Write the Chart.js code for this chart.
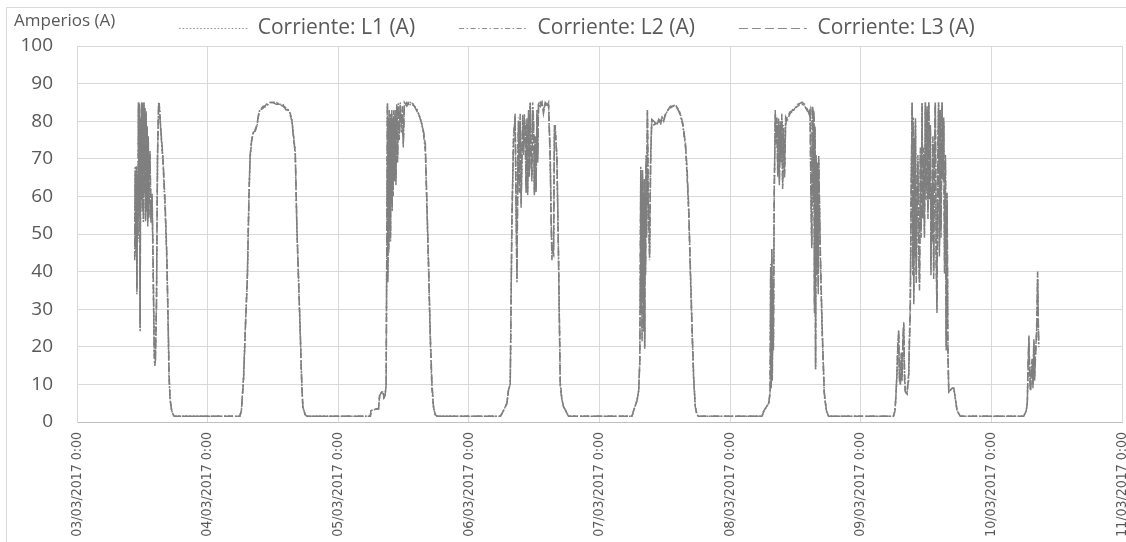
<!DOCTYPE html>
<html lang="es">
<head>
<meta charset="utf-8">
<title>Corriente L1 L2 L3</title>
<script src="https://cdn.jsdelivr.net/npm/chart.js@4.4.0/dist/chart.umd.min.js"></script>
<style>
  html, body { margin: 0; padding: 0; background: #fff; }
  #marco { position: absolute; left: 6px; top: 7px; width: 1120px; height: 535px; border-top: 1px solid #d9d9d9; border-left: 1px solid #d9d9d9; }
  #grafico { position: absolute; left: 0; top: 0; }
</style>
</head>
<body>
<div id="marco"></div>
<canvas id="grafico" width="1126" height="542"></canvas>
<script>
// etiquetas del eje X (una por dia)
let fechas = ['03/03/2017 0:00', '04/03/2017 0:00', '05/03/2017 0:00', '06/03/2017 0:00', '07/03/2017 0:00',
              '08/03/2017 0:00', '09/03/2017 0:00', '10/03/2017 0:00', '11/03/2017 0:00'];
let tituloY = 'Amperios (A)';

// horas desde 03/03/2017 0:00
let horas = [
  10.6,10.7,10.8,10.9,11.0,11.1,11.2,11.3,11.4,11.5,11.6,11.7,11.8,11.9,12.0,12.1,12.2,12.3,12.4,12.5,12.6,12.7,12.8,12.9,13.0,13.1,13.2,
  13.4,13.6,13.8,14.0,14.2,14.3,14.4,14.6,14.8,15.0,15.1,15.4,15.8,16.2,16.5,16.8,16.9,17.1,17.4,17.8,18.0,
  29.9,30.2,30.6,31.0,31.3,31.6,31.8,32.1,32.4,32.8,33.1,33.4,33.6,34.2,34.8,35.4,36.0,36.6,37.2,37.8,38.4,38.8,39.2,39.5,39.8,40.1,40.4,41.0,41.3,41.5,41.9,42.3,
  53.9,54.0,55.1,55.4,55.6,56.0,56.2,56.4,56.6,56.8,
  57.04,57.12,57.2,57.28,57.36,57.44,57.52,57.6,57.68,57.76,57.84,57.92,
  58.0,58.1,58.2,58.3,58.45,58.6,58.75,58.9,59.05,59.2,
  59.4,59.6,59.8,59.95,60.15,
  60.6,61.0,61.5,62.0,62.5,63.0,63.4,63.7,
  64.0,64.3,64.6,64.9,65.2,65.5,65.8,66.2,
  77.8,78.36,78.99,79.28,79.6,79.9,80.2,80.5,80.65,80.83,
  81.0,81.12,81.28,81.43,81.6,81.75,81.9,82.04,82.2,82.35,
  82.5,82.67,82.8,82.96,83.1,83.27,83.42,83.58,83.72,83.88,
  84.04,84.19,84.35,84.5,84.65,84.8,85.1,85.42,85.7,86.03,
  86.3,86.64,86.95,87.1,87.26,87.4,87.56,87.72,87.87,88.18,
  88.47,88.79,89.1,89.4,89.8,90.3,
  101.97,102.26,102.9,103.2,103.4,103.5,103.58,103.66,103.74,103.82,
  103.9,103.98,104.06,104.14,104.22,104.3,104.38,104.46,104.56,104.66,
  104.8,104.95,105.2,105.4,105.6,106.0,106.56,106.9,107.2,107.5,
  107.8,108.2,108.6,109.0,109.5,109.9,110.4,110.85,111.3,111.8,
  112.1,112.4,112.7,113.0,113.3,113.6,113.9,114.2,
  125.86,126.2,127.1,127.35,127.45,127.55,127.65,127.75,127.85,127.95,
  128.1,128.3,128.45,128.6,128.75,128.9,129.05,129.2,129.35,129.5,
  129.65,129.8,130.0,130.2,130.45,131.0,131.7,132.4,133.2,133.7,
  134.1,134.5,134.7,134.85,135.0,135.1,135.2,135.3,135.4,135.5,
  135.6,135.7,135.8,135.95,136.05,136.2,136.27,136.45,136.6,136.9,
  137.3,137.7,138.1,
  150.0,150.3,150.5,150.68,150.8,150.97,151.1,151.29,151.45,151.6,
  151.75,151.9,152.05,152.2,152.5,152.65,152.8,152.95,153.1,153.25,
  153.44,153.55,153.65,153.74,153.85,153.95,154.05,154.2,154.35,154.5,
  154.65,154.8,154.96,155.1,155.27,155.4,155.57,155.7,155.88,156.0,
  156.2,156.35,156.5,156.65,156.8,156.9,157.0,157.1,157.25,157.4,
  157.55,157.7,157.85,158.0,158.15,158.3,158.45,158.6,158.75,158.95,
  159.1,159.25,159.4,159.56,159.7,159.87,160.0,160.17,160.5,160.8,
  161.1,161.4,161.7,162.3,
  173.95,174.4,174.6,174.75,174.9,175.05,175.2,175.35,175.5,175.65,
  175.8,175.95,176.1,176.3,176.4,176.5,176.6,176.7
];

let L1 = [
  44,68,45,66,34,67,48,85,55,84,24,80,60,85,58,84,53,85,62,83,54,82,57,78,53,75,55,
  72,54,60,40,18,15,16,30,70,85,85,78,70,57,44,22,13,6,3,1.6,1.5,
  1.5,3,12,28,38,60,70,75,77,77.5,79,82,83,83.5,84,85,85,85,84.5,84.5,83.5,83,82,80,76,72,52,25,10,4,2,1.5,
  1.5,3,3.5,3.5,7,8,8,6.5,7,10,
  85,38,80,45,82,55,80,48,81,60,82,56,
  80,62,82,65,82,64,84,70,85,76,
  84,78,83,74,85,
  84,85,85,84,83,81,79,77,
  73,57,41,23,10,4,2,1.5,
  1.5,3,5,8.5,10,53,75,81.5,60,37,
  70,80,62,81,58,70,81,72,81,78,
  62,80,61,82,66,85,70,65,84,80,
  61,75,62,82,70,85,84,85,83,85,
  84,85,70,55,44,46,45,78,78,70,
  44,10,6,4,3,1.5,
  1.5,3,5.7,8.4,16,40,68,30,62,22,
  66,35,60,25,64,20,58,40,70,50,
  83,60,43,70,80,79.5,79,80.5,79.5,81,
  80,82,83,83.5,84,84.5,83.5,82,79,74,
  66,56,40,25,12,4,2,1.5,
  1.5,3,5,8,40,10,46,12,38,20,
  60,82,75,80,66,80,64,79,70,81,
  63,78,66,80,81,82,83,84,85,84,
  83,82,83,60,47,83.5,84,60,82,30,
  78,14,70,40,68,35,70,55,43,25,
  7.5,3,1.5,
  1.5,3,8,14,20,24,12,10,18,12,
  22,26,12,8,7.5,10,12,22,30,60,
  85,40,80,32,75,45,80,38,60,70,
  45,36,72,50,85,55,72,50,85,60,
  83,55,85,60,78,40,62,49,75,39,
  72,85,45,30,70,85,45,83,50,85,
  65,80,40,70,20,60,20,8,8.5,9,
  9,6,3,1.5,
  1.5,3,5,15,22.5,12,8.5,14,16,10,
  21.5,12,18,23.5,30,39.5,28,20
];

let L2 = [
  44,66,47,67,36,65,50,84,57,85,26,79,62,84,56,85,55,84,60,82,55,83,58,77,54,74,56,
  71,55,59,38,17,15,17,32,72,84,85,77,69,56,43,21,12,6,3,1.6,1.5,
  1.5,3,12,28,39,61,70,75,77,78,79,82,83,84,84,85,85,85,84.5,84,83.5,83,82,80,76,71,51,24,10,4,2,1.5,
  1.5,3,3.5,3.5,7,8,8,6.5,7,10,
  84,40,81,47,80,57,82,50,80,62,81,58,
  81,60,83,66,81,65,83,71,84,77,
  85,77,83,75,84,
  85,84,85,84,83,81,79,76,
  72,56,40,22,9,4,2,1.5,
  1.5,3,5,8.5,10,52,76,81,62,39,
  71,81,63,80,60,71,80,73,82,77,
  63,81,62,81,67,84,71,66,85,79,
  62,74,63,81,71,84,85,84,83,84.5,
  84,85,71,56,45,45,46,77,79,69,
  45,11,6,4,3,1.5,
  1.5,3,5.7,8.4,16,42,66,32,63,24,
  65,37,61,27,62,22,60,42,71,52,
  82,62,45,71,80,79,79.5,80,79,81,
  80.5,82,83,83.5,84,84,83.5,81.5,79,73,
  65,55,39,24,11,4,2,1.5,
  1.5,3,5,8,42,11,45,13,36,22,
  62,81,76,79,67,81,65,78,71,80,
  64,79,67,81,80,82,83.5,84,84.5,84,
  83,82.5,82,62,48,83,83.5,58,81,32,
  76,15,69,42,67,36,69,54,42,24,
  7,3,1.5,
  1.5,3,8,14,21,23,13,10,17,13,
  21,25,13,8,7.5,10,13,23,32,62,
  84,42,81,34,74,47,81,40,62,71,
  47,38,71,52,84,57,73,52,85,62,
  82,57,84,62,77,42,63,50,74,41,
  71,84,47,32,71,84,47,82,52,84,
  66,79,42,69,22,58,21,8,8.5,9,
  9,6,3,1.5,
  1.5,3,5,14,21,13,9,15,17,11,
  22,13,19,24,32,38,27,20
];

let L3 = [
  43,67,46,68,35,66,49,85,56,83,25,81,59,85,57,83,54,85,61,84,53,81,56,79,52,76,54,
  72,53,61,41,19,16,16,31,71,85,84,78,70,58,45,23,14,6,3,1.6,1.5,
  1.5,3,11,27,38,60,71,75,77,77.5,79.5,82,83,83.5,84.5,85,85,84.5,84.5,84.5,83,83,81.5,80,75,72,52,25,10,4,2,1.5,
  1.5,3,3.5,3.5,7,8,8,6.5,7,10,
  85,37,79,46,83,54,79,49,82,59,83,57,
  79,63,81,64,83,63,85,69,84,75,
  83,79,84,73,85,
  84,85,84.5,84,82.5,81,79,77,
  74,58,42,24,11,4,2,1.5,
  1.5,3,5,8.5,10,54,74,82,59,38,
  69,79,61,82,57,69,82,71,80,79,
  61,79,60,83,65,85,69,64,83,81,
  60,76,61,83,69,85,84,85,82,85,
  84.5,84,69,54,43,47,44,79,77,71,
  43,9,6,4,3,1.5,
  1.5,3,5.7,8.4,16,38,67,29,61,21,
  67,34,59,24,65,19.5,57,39,69,49,
  83,59,44,69,80.5,80,79,80.5,80,81,
  80,82.5,83,84,84,84.5,83,82,79.5,74,
  67,57,41,26,12,4,2,1.5,
  1.5,3,5,8,39,9,46,11,37,19,
  59,83,74,81,65,79,63,80,69,82,
  62,77,65,79,81,82.5,83,84.5,85,84.5,
  83.5,82,83.5,59,46,84,84,61,83,29,
  79,14,71,39,69,34,71,56,44,26,
  8,3,1.5,
  1.5,3,8,14,19,24.5,11,10,18.5,11,
  22.5,26.5,11,8,7.5,10,11,21,29,58,
  85,39,79,31,76,44,79,37,59,69,
  44,35,73,49,85,54,71,49,84,59,
  84,54,85,59,79,39,61,48,76,38,
  73,85,44,29,69,85,44,83,49,85,
  64,81,39,71,19,61,20,8,8.5,9,
  9,6,3,1.5,
  1.5,3,5,16,23,11,8,13,15,9,
  21,11,17,23,29,40,29,21
];

Chart.defaults.font.family = "'Open Sans', sans-serif";

function serie(valores) {
    return horas.map((h, i) => ({ x: h, y: valores[i] }));
}

// la leyenda ocupa una franja fija arriba y va un poco a la derecha del centro
let ajusteLeyenda = {
    id: 'ajusteLeyenda',
    beforeInit(chart) {
        let fitOriginal = chart.legend.fit;
        chart.legend.fit = function () {
            fitOriginal.call(this);
            this.height = 72;
            this.lineWidths[0] -= 32;
        };
    }
};

let tituloEje = {
    id: 'tituloEje',
    afterDraw(chart) {
        let c = chart.ctx;
        c.save();
        c.font = "17px 'Open Sans'";
        c.fillStyle = '#595959';
        c.textBaseline = 'middle';
        c.fillText(tituloY, 14, 21);
        c.restore();
    }
};

let config = {
    type : 'line',
    data : {
        datasets : [
            { label : 'Corriente: L1 (A)', data : serie(L1), borderColor : '#7f7f7f', borderWidth : 1.5, borderDash : [1.5, 2], pointRadius : 0 },
            { label : 'Corriente: L2 (A)', data : serie(L2), borderColor : '#7f7f7f', borderWidth : 1.5, borderDash : [5, 2.5, 1.5, 2.5], pointRadius : 0 },
            { label : 'Corriente: L3 (A)', data : serie(L3), borderColor : '#7f7f7f', borderWidth : 1.5, borderDash : [9, 4], pointRadius : 0 }
        ]
    },
    options : {
        responsive : false,
        animation : false,
        devicePixelRatio : 1,
        layout : { padding : { left : 0, right : 4, top : -26, bottom : 0 } },
        scales : {
            x : {
                type : 'linear',
                min : 0,
                max : 192,
                ticks : {
                    stepSize : 24,
                    autoSkip : false,
                    minRotation : 90,
                    maxRotation : 90,
                    padding : 10,
                    color : '#595959',
                    font : { family : "'DejaVu Sans Condensed', 'DejaVu Sans', sans-serif", size : 14 },
                    callback : (v) => fechas[v / 24]
                },
                grid : { color : '#d9d9d9', drawTicks : false },
                border : { color : '#bfbfbf' },
                afterFit : (s) => { s.height = 120; s.paddingLeft = 0; s.paddingRight = 0; }
            },
            y : {
                min : 0,
                max : 100,
                ticks : { stepSize : 10, padding : 24, color : '#595959', font : { size : 19 } },
                grid : { color : '#d9d9d9', drawTicks : false },
                border : { color : '#d9d9d9' },
                afterFit : (s) => { s.width = 77; }
            }
        },
        plugins : {
            legend : {
                position : 'top',
                labels : {
                    color : '#595959',
                    font : { size : 21 },
                    usePointStyle : true,
                    pointStyleWidth : 68,
                    padding : 44,
                    generateLabels : (chart) => chart.data.datasets.map((ds, i) => ({
                        text : ds.label,
                        datasetIndex : i,
                        fontColor : '#595959',
                        fillStyle : 'rgba(0,0,0,0)',
                        strokeStyle : '#8c8c8c',
                        lineWidth : 1,
                        lineDash : ds.borderDash,
                        pointStyle : 'line',
                        hidden : false
                    }))
                }
            },
            tooltip : { enabled : false }
        }
    },
    plugins : [ajusteLeyenda, tituloEje]
};

let chart = new Chart(document.getElementById('grafico'), config);
</script>
</body>
</html>
